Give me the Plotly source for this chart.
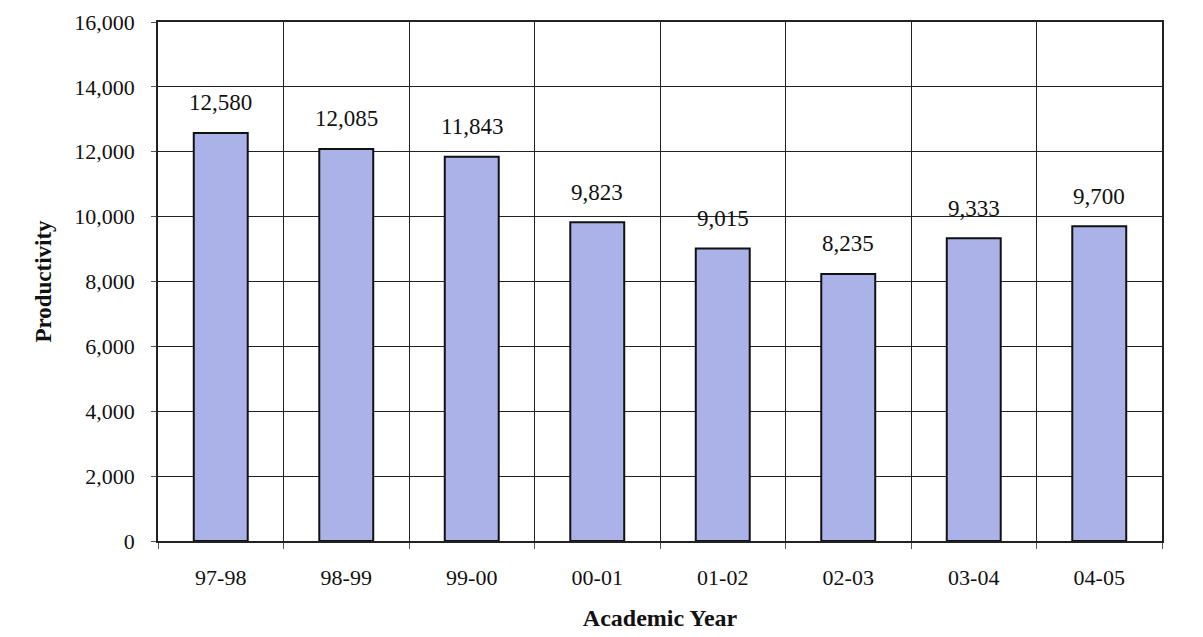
import plotly.graph_objects as go

years = ["97-98", "98-99", "99-00", "00-01", "01-02", "02-03", "03-04", "04-05"]
productivity = [12580, 12085, 11843, 9823, 9015, 8235, 9333, 9700]
y_ticks = [0, 2000, 4000, 6000, 8000, 10000, 12000, 14000, 16000]

FONT = "Liberation Serif, Times New Roman, serif"

fig = go.Figure(go.Bar(
    x=years, y=productivity,
    marker=dict(color="#AAB2E8", line=dict(color="#111111", width=2)),
    width=0.43,
    hoverinfo="x+y",
))

for yr, v in zip(years, productivity):
    fig.add_annotation(
        x=yr, y=v, text=f"{v:,}", showarrow=False,
        yshift=30, font=dict(family=FONT, size=23, color="#111111"),
    )

fig.update_layout(
    width=1203, height=637,
    margin=dict(l=150, r=49, t=14, b=104),
    plot_bgcolor="white", paper_bgcolor="white",
    showlegend=False,
    font=dict(family=FONT, color="#111111"),
    xaxis=dict(
        type="category", tickson="boundaries", automargin=False,
        showgrid=True, gridcolor="#222222", gridwidth=1,
        showline=True, linecolor="#222222", linewidth=1.5, mirror=True,
        ticks="outside", ticklen=6, tickcolor="#555555",
        ticklabelstandoff=16,
        tickfont=dict(family=FONT, size=22),
        title=dict(text="<b>Academic Year</b>",
                   font=dict(family=FONT, size=24), standoff=20),
    ),
    yaxis=dict(
        range=[0, 16000], tickvals=y_ticks, tickformat=",", automargin=False,
        showgrid=True, gridcolor="#222222", gridwidth=1,
        showline=True, linecolor="#222222", linewidth=1.5, mirror=True,
        ticks="outside", ticklen=5, tickcolor="#555555",
        ticklabelstandoff=12,
        tickfont=dict(family=FONT, size=22),
        zeroline=False,
        title=dict(text="<b>Productivity</b>", font=dict(family=FONT, size=23), standoff=16),
    ),
)

fig.write_html("out.html")
